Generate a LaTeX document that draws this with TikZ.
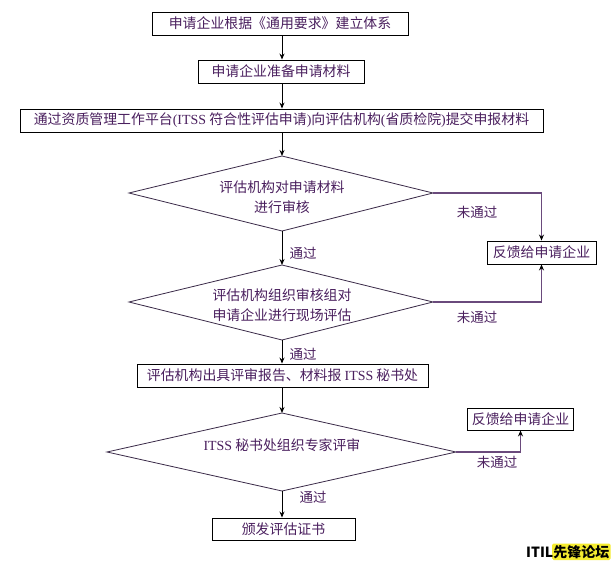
\documentclass[tikz,border=0pt]{standalone}
\usepackage{fontspec}
\setmainfont{Liberation Serif}
\newfontfamily\cjk{Noto Sans CJK SC}
\usetikzlibrary{arrows.meta}
\definecolor{txtc}{HTML}{4A1F5E}
\definecolor{linep}{HTML}{6A4A7C}
\definecolor{diac}{HTML}{3A2A48}
\definecolor{wmy}{HTML}{F5EC30}
\newcommand{\lat}[1]{{\rmfamily #1}}
\tikzset{
  box/.style={draw=black, line width=0.9pt, inner sep=0pt, text=txtc,
    font=\fontsize{13.9}{16}\selectfont\cjk, anchor=center},
  dtext/.style={text=txtc, font=\fontsize{13.9}{20}\selectfont\cjk, align=center, inner sep=0pt},
  lbl/.style={text=txtc, font=\fontsize{13.5}{15}\selectfont\cjk, inner sep=0pt},
  diam/.style={draw=diac, line width=0.8pt},
  flow/.style={draw=black, line width=1pt, -{Stealth[length=6pt,width=5pt]}},
  back/.style={draw=linep, line width=1.2pt, -{Stealth[length=6pt,width=5pt,color=black]}},
  wm/.style={font=\fontsize{14}{16}\selectfont\cjk\bfseries, inner sep=0pt}
}
\begin{document}
\begin{tikzpicture}[x=1pt,y=-1pt]
\useasboundingbox[fill=white] (0,0) rectangle (611,561);

% process boxes
\node[box, minimum width=256pt, minimum height=23pt] (b1) at (280,23.5) {申请企业根据《通用要求》建立体系};
\node[box, minimum width=166pt, minimum height=23pt] (b2) at (281,71.5) {申请企业准备申请材料};
\node[box, minimum width=523pt, minimum height=23pt] (b3) at (281.5,120.5) {通过资质管理工作平台\lat{(ITSS }符合性评估申请\lat{)}向评估机构\lat{(}省质检院\lat{)}提交申报材料};
\node[box, minimum width=291pt, minimum height=23pt] (b4) at (282.5,375.5) {评估机构出具评审报告、材料报 \lat{ITSS} 秘书处};
\node[box, minimum width=143pt, minimum height=22pt] (b6) at (283.5,529) {颁发评估证书};
\node[box, minimum width=109pt, minimum height=23pt] (f1) at (541.5,252.5) {反馈给申请企业};
\node[box, minimum width=106pt, minimum height=22pt] (f2) at (520.5,419) {反馈给申请企业};

% diamond 1
\coordinate (d1t) at (282,156);
\coordinate (d1b) at (282,231);
\coordinate (d1l) at (129,193);
\coordinate (d1r) at (433,193);
\draw[diam] (d1t) -- (d1r) -- (d1b) -- (d1l) -- cycle;
\node[dtext] (d1x) at (282,197) {评估机构对申请材料\\进行审核};

% diamond 2
\coordinate (d2t) at (282,265);
\coordinate (d2b) at (282,340);
\coordinate (d2l) at (129,302);
\coordinate (d2r) at (433,302);
\draw[diam] (d2t) -- (d2r) -- (d2b) -- (d2l) -- cycle;
\node[dtext] (d2x) at (282,305) {评估机构组织审核组对\\申请企业进行现场评估};

% diamond 3
\coordinate (d3t) at (282,413);
\coordinate (d3b) at (282,491);
\coordinate (d3l) at (107,452);
\coordinate (d3r) at (456,452);
\draw[diam] (d3t) -- (d3r) -- (d3b) -- (d3l) -- cycle;
\node[dtext] (d3x) at (282,445) {\lat{ITSS} 秘书处组织专家评审};

% main flow
\draw[flow] (b1.south -| d1t) -- (b2.north -| d1t);
\draw[flow] (b2.south -| d1t) -- (b3.north -| d1t);
\draw[flow] (b3.south -| d1t) -- (d1t);
\draw[flow] (d1b) -- (d2t);
\draw[flow] (d2b) -- (b4.north -| d2b);
\draw[flow] (b4.south -| d3t) -- (d3t);
\draw[flow] (d3b) -- (b6.north -| d3b);

% feedback
\draw[back] (d1r) -| (f1.north);
\draw[back] (d2r) -| (f1.south);
\draw[back] (d3r) -| (f2.south);

% labels
\node[lbl] (l1) at (477,212) {未通过};
\node[lbl] (l2) at (477,317) {未通过};
\node[lbl] (l3) at (497,462) {未通过};
\node[lbl] (p1) at (303,253) {通过};
\node[lbl] (p2) at (303,354) {通过};
\node[lbl] (p3) at (313,497) {通过};

% watermark
\fill[wmy, rounded corners=1.5pt] (552,543.5) rectangle (610.5,560);
\node[wm, text=black, anchor=east] (wmk) at (609.5,552) {ITIL先锋论坛};
\end{tikzpicture}
\end{document}
